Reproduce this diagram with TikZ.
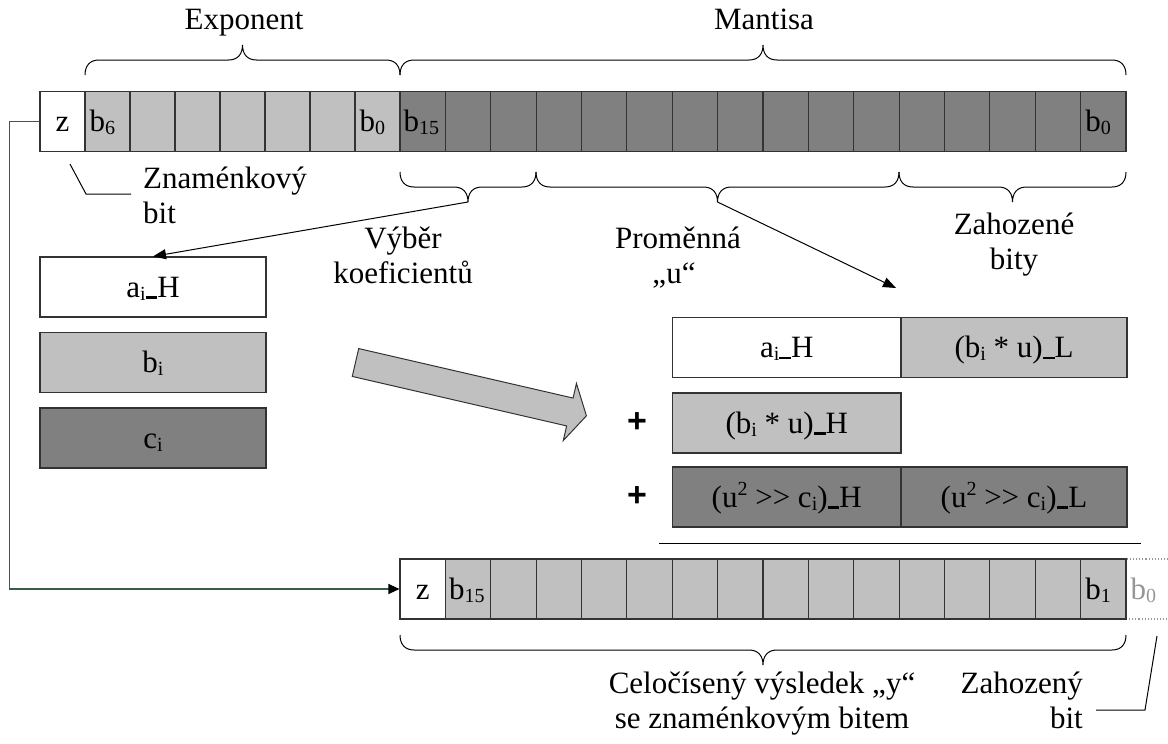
\documentclass[tikz,border=0pt]{standalone}
\usepackage{fontspec}
\setmainfont{Liberation Serif}
\setsansfont{Liberation Sans}
\usetikzlibrary{arrows.meta}

\definecolor{bitlight}{RGB}{192,192,192}
\definecolor{bitdark}{RGB}{128,128,128}
\definecolor{linkgreen}{RGB}{56,94,66}
\definecolor{dropgray}{RGB}{150,150,150}

% small lowered / raised digits and letters, short underscore bar
\newcommand{\bsub}[1]{\raisebox{-0.1em}{\fontsize{20}{20}\selectfont #1}}
\newcommand{\bsup}[1]{\raisebox{0.36em}{\fontsize{20}{20}\selectfont #1}}
\newcommand{\ubar}{\rule[-0.05em]{0.38em}{0.075em}}

% horizontal curly brace: #1 tip name, #2 left x, #3 right x, #4 y of the ends, #5 depth (sign = direction)
\newcommand{\wbrace}[5]{%
  \pgfmathsetmacro\bxm{(#2+#3)/2}%
  \pgfmathsetmacro\bym{#4+(#5)}%
  \pgfmathsetmacro\byt{#4+2*(#5)}%
  \pgfmathsetmacro\bya{#4+0.55*(#5)}%
  \pgfmathsetmacro\byb{#4+1.45*(#5)}%
  \draw[bracepath] (#2,#4) .. controls (#2,\bya) and ({#2+4},\bym) .. ({#2+14},\bym)
     -- ({\bxm-14},\bym) .. controls ({\bxm-4},\bym) and (\bxm,\byb) .. (\bxm,\byt)
     .. controls (\bxm,\byb) and ({\bxm+4},\bym) .. ({\bxm+14},\bym)
     -- ({#3-14},\bym) .. controls ({#3-4},\bym) and (#3,\bya) .. (#3,#4);
  \coordinate (#1) at (\bxm,\byt);}

\begin{document}
\begin{tikzpicture}[x=1pt,y=-1pt,
  txt/.style={font=\fontsize{31}{35}\selectfont, inner sep=0pt},
  cell/.style={draw=black!80, line width=1.1pt, minimum height=60pt, inner sep=0pt,
               text height=20pt, text depth=0pt, font=\fontsize{31}{35}\selectfont},
  bitlbl/.style={anchor=west, inner sep=0pt, text height=20pt, text depth=0pt,
                 font=\fontsize{31}{35}\selectfont},
  bracepath/.style={draw=black, line width=1pt},
  pointer/.style={draw=black, line width=1pt},
  link/.style={draw=black, line width=1pt, -{Triangle[length=13pt,width=10pt]}},
  signlink/.style={draw=linkgreen, line width=1.1pt, -{Triangle[length=11pt,width=10pt,color=black]}},
  plus/.style={font=\sffamily\bfseries\fontsize{34}{34}\selectfont, inner sep=0pt},
  bigarrow/.style={fill=bitlight, draw=black!80, line width=1pt},
]
\useasboundingbox (0,0) rectangle (1168,744);

% ---- input word: sign, exponent, mantissa ----
\node[cell, fill=white, minimum width=45pt] (tz) at (62.5,121.5) {z};
\foreach \i in {1,...,7}
  \node[cell, fill=bitlight, minimum width=45pt] (e\i) at ({40+45*\i+22.5},121.5) {};
\foreach \j in {1,...,16}
  \node[cell, fill=bitdark, minimum width=45.375pt] (m\j) at ({400+45.375*(\j-1)+22.6875},121.5) {};
\node[bitlbl] (le6) at ([xshift=5pt]e1.west) {b\bsub{6}};
\node[bitlbl] (le0) at ([xshift=5pt]e7.west) {b\bsub{0}};
\node[bitlbl] (lm15) at ([xshift=4pt]m1.west) {b\bsub{15}};
\node[bitlbl] (lm0) at ([xshift=5pt]m16.west) {b\bsub{0}};

% ---- braces above the word ----
\wbrace{expTip}{85}{400}{75}{-15}
\wbrace{manTip}{400}{1126}{75}{-15}
\node[txt, anchor=base] (expo) at (244,30) {Exponent};
\node[txt, anchor=base] (mant) at (764,30) {Mantisa};

% ---- braces below the mantissa ----
\wbrace{selTip}{400}{536}{172}{15}
\wbrace{uTip}{536}{899}{172}{15}
\wbrace{dropTip}{899}{1126}{172}{15}

% ---- sign bit note ----
\coordinate (znA) at (70,164);
\coordinate (znB) at (86,194);
\coordinate (znC) at (131,194);
\draw[pointer] (znA) -- (znB) -- (znC);
\node[txt, anchor=base west] (zn1) at (143,188) {Znaménkový};
\node[txt, anchor=base west] (zn2) at (143,223) {bit};

% ---- labels under the braces ----
\node[txt, anchor=base] (vyb1) at (403,248) {Výběr};
\node[txt, anchor=base] (vyb2) at (403,283) {koeficientů};
\node[txt, anchor=base] (prom1) at (678,248) {Proměnná};
\node[txt, anchor=base] (prom2) at (674,283) {„u“};
\node[txt, anchor=base] (zah1) at (1014,234) {Zahozené};
\node[txt, anchor=base] (zah2) at (1014,269) {bity};

% ---- coefficient table ----
\node[cell, fill=white, minimum width=226pt] (kai) at (153,287) {a\bsub{i}\ubar H};
\node[cell, fill=bitlight, minimum width=226pt] (kbi) at (153,362.5) {b\bsub{i}};
\node[cell, fill=bitdark, minimum width=226pt] (kci) at (153,438) {c\bsub{i}};

\draw[link] (selTip) -- (kai.north);
\coordinate (uEnd) at (896,288);
\draw[link] (uTip) -- (uEnd);

% ---- big block arrow ----
\begin{scope}[shift={(355.5,362.5)}, rotate=-13]
  \draw[bigarrow] (0,-14.3) -- (220,-14.3) -- (220,-29.3) -- (237,0)
        -- (220,29.3) -- (220,14.3) -- (0,14.3) -- cycle;
\end{scope}

% ---- partial sums ----
\node[cell, fill=white, minimum width=228.5pt] (s1a) at (786.75,347.5) {a\bsub{i}\ubar H};
\node[cell, fill=bitlight, minimum width=226pt] (s1b) at (1014,347.5) {(b\bsub{i} * u)\ubar L};
\node[cell, fill=bitlight, minimum width=228.5pt] (s2a) at (786.75,423) {(b\bsub{i} * u)\ubar H};
\node[cell, fill=bitdark, minimum width=228.5pt] (s3a) at (786.75,497) {(u\bsup{2} >\kern0pt> c\bsub{i})\ubar H};
\node[cell, fill=bitdark, minimum width=226pt] (s3b) at (1014,497) {(u\bsup{2} >\kern0pt> c\bsub{i})\ubar L};
\node[plus] (p2) at (637,423) {+};
\node[plus] (p3) at (637,497) {+};
\coordinate (sumL) at (659,543);
\coordinate (sumR) at (1141,543);
\draw[pointer] (sumL) -- (sumR);

% ---- result word ----
\node[cell, draw=dropgray, dotted, minimum width=45.375pt] (rdrop) at ({1126+22.6875},589) {};
\node[bitlbl, text=dropgray] (ld0) at ([xshift=5pt]rdrop.west) {b\bsub{0}};
\node[cell, fill=white, minimum width=45.375pt] (bz) at (422.6875,589) {z};
\foreach \j in {1,...,15}
  \node[cell, fill=bitlight, minimum width=45.375pt] (r\j) at ({400+45.375*\j+22.6875},589) {};
\node[bitlbl] (lr15) at ([xshift=4pt]r1.west) {b\bsub{15}};
\node[bitlbl] (lr1) at ([xshift=5pt]r15.west) {b\bsub{1}};

% sign bit carried straight to the result
\draw[signlink] (tz.west) -- ++(-30,0) |- (bz.west);

% ---- brace and notes under the result ----
\wbrace{resTip}{400}{1126}{635}{15}
\node[txt, anchor=base] (cel1) at (762,693) {Celočísený výsledek „y“};
\node[txt, anchor=base] (cel2) at (762,728) {se znaménkovým bitem};
\node[txt, anchor=base east] (zb1) at (1083,693) {Zahozený};
\node[txt, anchor=base east] (zb2) at (1083,728) {bit};
\coordinate (zbA) at (1157,636);
\coordinate (zbB) at (1145,710);
\coordinate (zbC) at (1096,710);
\draw[pointer] (zbA) -- (zbB) -- (zbC);
\end{tikzpicture}
\end{document}
